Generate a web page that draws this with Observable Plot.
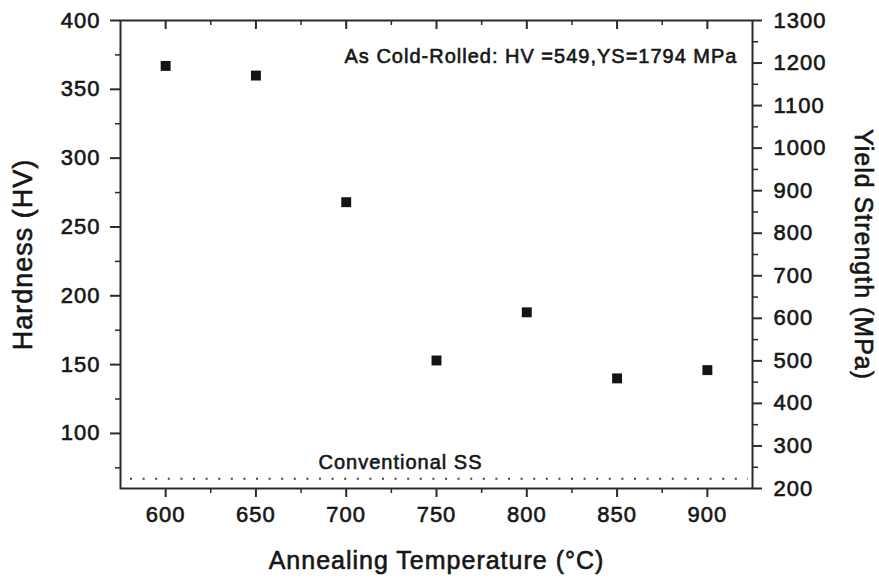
<!DOCTYPE html>
<html><head><meta charset="utf-8">
<script src="https://cdn.jsdelivr.net/npm/d3@7"></script>
<script src="https://cdn.jsdelivr.net/npm/@observablehq/plot@0.6"></script>
<style>body{margin:0;background:#fff;} svg text{letter-spacing:1px;}</style>
</head><body><div id="chart"></div>
<script>
const temperatures = [600, 650, 700, 750, 800, 850, 900];
const hardness = [367, 360, 268, 153, 188, 140, 146];
const conventionalHV = [67];
const xMajorTicks = [600, 650, 700, 750, 800, 850, 900];
const xMinorTicks = [625, 675, 725, 775, 825, 875];
const hvMajorTicks = [100, 150, 200, 250, 300, 350, 400];
const hvMinorTicks = [75, 125, 175, 225, 275, 325, 375];
const ysMajorTicks = [200, 300, 400, 500, 600, 700, 800, 900, 1000, 1100, 1200, 1300];
const ysMinorTicks = [250, 350, 450, 550, 650, 750, 850, 950, 1050, 1150, 1250];
const xLabel = "Annealing Temperature (°C)";
const leftLabel = "Hardness (HV)";
const rightLabel = "Yield Strength (MPa)";
const coldRolledNote = "As Cold-Rolled: HV =549,YS=1794 MPa";
const conventionalNote = "Conventional SS";

const xDomain = [575, 925];
const hvDomain = [60, 400];
const ysDomain = [200, 1300];
const ysToHv = ys => hvDomain[0] + (ys - ysDomain[0]) * (hvDomain[1] - hvDomain[0]) / (ysDomain[1] - ysDomain[0]);

const points = temperatures.map((t, i) => ({t, hv: hardness[i]}));
const ink = "#161616";
const axisColor = "#2a2a2a";
const textThick = {stroke: ink, strokeWidth: 0.6};
const axisTextThick = {textStroke: ink, textStrokeWidth: 0.6};

const chart = Plot.plot({
  width: 879,
  height: 578,
  marginLeft: 120,
  marginRight: 127,
  marginTop: 20,
  marginBottom: 90,
  style: {fontFamily: "'Liberation Sans', Arial, sans-serif", fontSize: "22px", color: ink, background: "#fff"},
  x: {domain: xDomain, label: null},
  y: {domain: hvDomain, label: null},
  marks: [
    Plot.frame({stroke: axisColor, strokeWidth: 2}),
    // bottom axis
    Plot.axisX(xMajorTicks, {anchor: "bottom", tickSize: 9, tickPadding: 9, strokeWidth: 2, stroke: axisColor, fill: ink, fontSize: 22, label: null, ...axisTextThick}),
    Plot.axisX(xMinorTicks, {anchor: "bottom", tickSize: 5, strokeWidth: 1.5, stroke: axisColor, tickFormat: () => "", label: null}),
    // top inward ticks
    Plot.ruleX(xMajorTicks, {x: d => d, insetBottom: 459, stroke: axisColor, strokeWidth: 2}),
    Plot.ruleX(xMinorTicks, {x: d => d, insetBottom: 463, stroke: axisColor, strokeWidth: 1.5}),
    // left axis
    Plot.axisY(hvMajorTicks, {anchor: "left", tickSize: 10, tickPadding: 10, strokeWidth: 2, stroke: axisColor, fill: ink, fontSize: 22, label: null, ...axisTextThick}),
    Plot.axisY(hvMinorTicks, {anchor: "left", tickSize: 5, strokeWidth: 1.5, stroke: axisColor, tickFormat: () => "", label: null}),
    // right axis (yield strength)
    Plot.axisY(ysMajorTicks, {anchor: "right", y: d => ysToHv(d), tickFormat: d => String(d), tickSize: 9, tickPadding: 12, strokeWidth: 2, stroke: axisColor, fill: ink, fontSize: 22, label: null, ...axisTextThick}),
    Plot.axisY(ysMinorTicks, {anchor: "right", y: d => ysToHv(d), tickFormat: () => "", tickSize: 5, strokeWidth: 1.5, stroke: axisColor, label: null}),
    // conventional SS dotted line
    Plot.ruleY(conventionalHV, {y: d => d, stroke: "#444", strokeWidth: 2, strokeDasharray: "2,10.6", insetLeft: 10, insetRight: 4}),
    // data
    Plot.dot(points, {x: "t", y: "hv", symbol: "square", r: 5.6, fill: "#141414", stroke: "none"}),
    // annotations
    Plot.text([coldRolledNote], {frameAnchor: "top-right", textAnchor: "end", lineAnchor: "middle", dx: -15, dy: 36, fontSize: 20, fill: ink, ...textThick}),
    Plot.text([conventionalNote], {frameAnchor: "bottom-left", textAnchor: "start", lineAnchor: "middle", dx: 198, dy: -26, fontSize: 20, fill: ink, ...textThick}),
    // axis labels
    Plot.text([xLabel], {frameAnchor: "bottom", textAnchor: "middle", lineAnchor: "middle", dy: 72, fontSize: 25, fill: ink, ...textThick}),
    Plot.text([leftLabel], {frameAnchor: "left", textAnchor: "middle", rotate: -90, lineAnchor: "middle", dx: -97, fontSize: 27, fill: ink, ...textThick}),
    Plot.text([rightLabel], {frameAnchor: "right", textAnchor: "middle", rotate: 90, lineAnchor: "middle", dx: 110, fontSize: 25, fill: ink, ...textThick})
  ]
});
document.getElementById("chart").appendChild(chart);
</script>
</body></html>
